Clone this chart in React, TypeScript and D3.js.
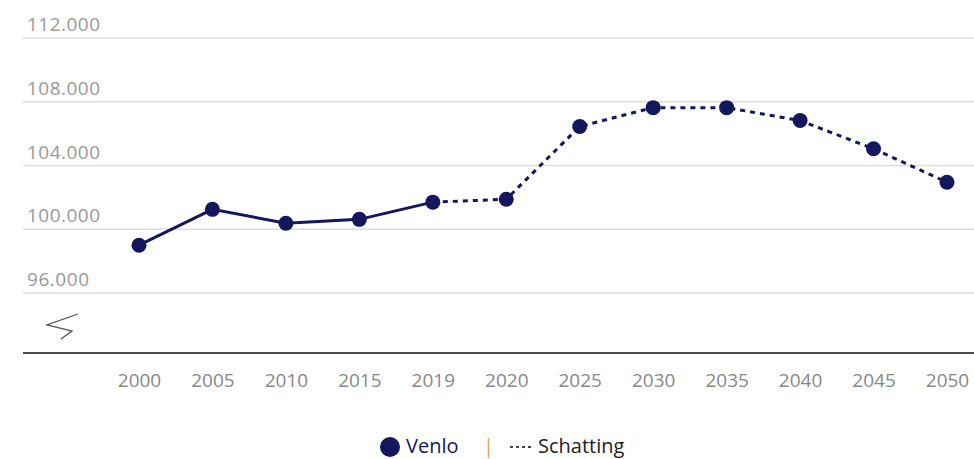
import React, { useEffect, useRef } from 'react';
import * as d3 from 'd3';

const years = ['2000', '2005', '2010', '2015', '2019', '2020', '2025', '2030', '2035', '2040', '2045', '2050'];
const population = [99000, 101250, 100380, 100620, 101700, 101880, 106450, 107630, 107630, 106820, 105050, 102950];
const measuredUntil = '2019';
const yTicks = [96000, 100000, 104000, 108000, 112000];

const NAVY = '#14165e';

const App = () => {
  const svgRef = useRef<SVGSVGElement>(null);

  useEffect(() => {
    const svg = d3.select(svgRef.current);
    svg.selectAll('*').remove();

    const w = 974;
    const h = 459;
    const font = "'Open Sans', 'Liberation Sans', sans-serif";

    // scales
    const x = d3.scalePoint<string>().domain(years).range([139, 947]);
    const y = d3.scaleLinear().domain([96000, 112000]).range([293, 38]);
    const axisY = 353;

    // gridlines + labels
    const grid = svg.append('g');
    grid.selectAll('line')
      .data(yTicks)
      .join('line')
      .attr('x1', 23).attr('x2', w)
      .attr('y1', d => y(d)).attr('y2', d => y(d))
      .attr('stroke', '#dcdcdc')
      .attr('stroke-width', 1.5);
    grid.selectAll('text')
      .data(yTicks)
      .join('text')
      .attr('x', 27)
      .attr('y', d => y(d) - 7)
      .attr('fill', '#999')
      .attr('font-family', font)
      .attr('font-size', 19)
      .attr('textLength', d => (d >= 100000 ? 73 : 62))
      .text(d => d3.format(',')(d).replace(/,/g, '.'));

    // axis break symbol
    svg.append('path')
      .attr('d', 'M78,314 L47,325 L72,331 L61,339')
      .attr('fill', 'none')
      .attr('stroke', '#555')
      .attr('stroke-width', 1.3);

    // x axis
    const xAxis = d3.axisBottom(x).tickSize(0).tickPadding(24);
    const xg = svg.append('g').attr('transform', `translate(0,${axisY})`).call(xAxis);
    xg.select('.domain').remove();
    xg.append('line')
      .attr('x1', 23).attr('x2', w)
      .attr('stroke', '#111').attr('stroke-width', 1.5);
    xg.selectAll('.tick text')
      .attr('fill', '#888')
      .attr('font-family', font)
      .attr('font-size', 19)
      .attr('dy', '0.55em');

    const pts = years.map((yr, i) => ({ yr, v: population[i] }));
    const split = years.indexOf(measuredUntil);
    const line = d3.line<{ yr: string; v: number }>()
      .x(d => x(d.yr) as number)
      .y(d => y(d.v));

    svg.append('path')
      .attr('d', line(pts.slice(0, split + 1)))
      .attr('fill', 'none')
      .attr('stroke', NAVY)
      .attr('stroke-width', 3);
    svg.append('path')
      .attr('d', line(pts.slice(split)))
      .attr('fill', 'none')
      .attr('stroke', NAVY)
      .attr('stroke-width', 3)
      .attr('stroke-dasharray', '5,5');

    svg.append('g').selectAll('circle')
      .data(pts)
      .join('circle')
      .attr('cx', d => x(d.yr) as number)
      .attr('cy', d => y(d.v))
      .attr('r', 7.5)
      .attr('fill', NAVY);

    // legend
    const lg = svg.append('g').attr('font-family', font).attr('font-size', 20);
    lg.append('circle').attr('cx', 390).attr('cy', 447).attr('r', 10).attr('fill', NAVY);
    lg.append('text').attr('x', 406).attr('y', 453).attr('fill', NAVY).text('Venlo');
    lg.append('text').attr('x', 483).attr('y', 453).attr('fill', '#e8a64a').text('|');
    lg.append('line')
      .attr('x1', 510).attr('x2', 532)
      .attr('y1', 447).attr('y2', 447)
      .attr('stroke', '#444').attr('stroke-width', 2)
      .attr('stroke-dasharray', '3,3');
    lg.append('text').attr('x', 538).attr('y', 453).attr('fill', '#222').text('Schatting');

    svg.attr('width', w).attr('height', h);
  }, []);

  return (
    <div style={{ position: 'absolute', left: 0, top: 0 }}>
      <svg ref={svgRef} style={{ display: 'block' }}></svg>
    </div>
  );
};

export default App;
